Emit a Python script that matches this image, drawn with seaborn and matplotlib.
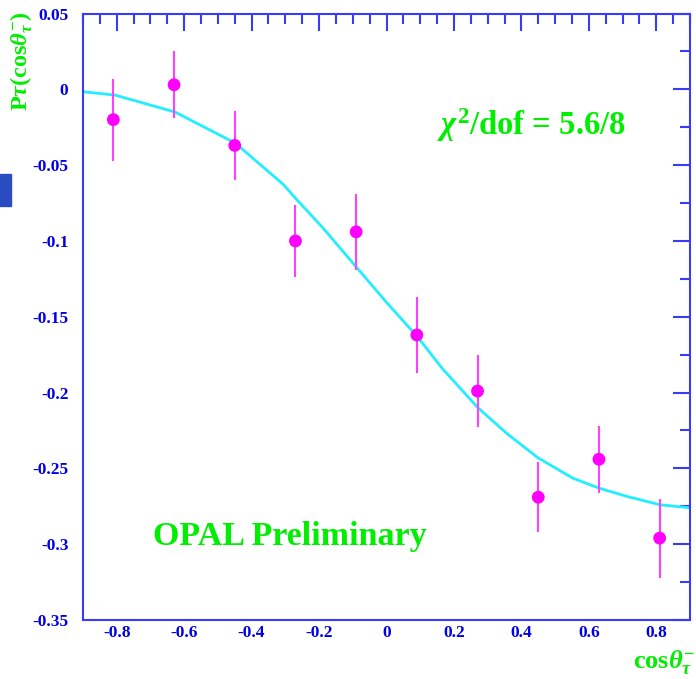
import numpy as np
import pandas as pd
import matplotlib
matplotlib.use("Agg")
import matplotlib.pyplot as plt
import seaborn as sns
from matplotlib.ticker import MultipleLocator, FormatStrFormatter
from matplotlib.patches import Rectangle

# Measured tau polarisation per cos(theta) bin
cos_theta = [-0.81, -0.63, -0.45, -0.27, -0.09, 0.09, 0.27, 0.45, 0.63, 0.81]
p_tau = [-0.020, 0.003, -0.037, -0.100, -0.094, -0.162, -0.199, -0.269, -0.244, -0.296]
p_err = [0.027, 0.022, 0.023, 0.024, 0.025, 0.025, 0.024, 0.023, 0.022, 0.026]

# Fitted curve, sampled along cos(theta)
fit_x = [-0.90, -0.805, -0.627, -0.449, -0.307, -0.265, -0.188, -0.087, 0.002,
         0.091, 0.165, 0.271, 0.357, 0.449, 0.553, 0.630, 0.713, 0.811, 0.90]
fit_y = [-0.0016, -0.0038, -0.0150, -0.0354, -0.0625, -0.0730, -0.0915, -0.1179,
         -0.1410, -0.1630, -0.1840, -0.2100, -0.2270, -0.2430, -0.2565, -0.2630,
         -0.2685, -0.2740, -0.2760]

fit_text = r"$\chi^{2}$/dof = 5.6/8"
label_text = "OPAL Preliminary"

sns.set_theme(style="white")
plt.rcParams.update({
    "font.family": ["Liberation Serif", "DejaVu Serif"],
    "font.weight": "bold",
    "mathtext.fontset": "custom",
    "mathtext.rm": "Liberation Serif:bold",
    "mathtext.bf": "Liberation Serif:bold",
    "mathtext.it": "Liberation Serif:italic:bold",
    "axes.unicode_minus": False,
})

BLUE = "#3a3aff"
LABEL_BLUE = "#0000e6"
GREEN = "#00ee00"
MAGENTA = "#ff00ff"
CYAN = "#22eeff"

fig = plt.figure(figsize=(6.96, 6.79), dpi=100)
ax = fig.add_axes([83 / 696, 59 / 679, 607 / 696, 606.5 / 679])
ax.set_facecolor("white")

pts = pd.DataFrame({"c": cos_theta, "p": p_tau, "e": p_err})
fit = pd.DataFrame({"c": fit_x, "p": fit_y})

sns.lineplot(data=fit, x="c", y="p", ax=ax, color=CYAN, lw=2.0, sort=False,
             zorder=2)
ax.errorbar(pts["c"], pts["p"], yerr=pts["e"], fmt="none", ecolor="#ff40ff",
            elinewidth=1.5, capsize=0, zorder=3)
sns.scatterplot(data=pts, x="c", y="p", ax=ax, color=MAGENTA, s=85,
                edgecolor="none", zorder=4)

ax.set_xlim(-0.9, 0.9)
ax.set_ylim(-0.35, 0.05)
ax.set_xlabel("")
ax.set_ylabel("")

ax.xaxis.set_major_locator(MultipleLocator(0.2))
ax.xaxis.set_minor_locator(MultipleLocator(0.05))
ax.yaxis.set_major_locator(MultipleLocator(0.05))
ax.yaxis.set_minor_locator(MultipleLocator(0.025))
ax.xaxis.set_major_formatter(FormatStrFormatter("%g"))
ax.yaxis.set_major_formatter(FormatStrFormatter("%g"))

ax.tick_params(which="both", direction="in", top=True, right=True,
               color=BLUE, width=1.5, labelcolor=LABEL_BLUE, labelsize=12.5)
ax.tick_params(which="major", length=12)
ax.tick_params(which="minor", length=7)
ax.tick_params(axis="y", which="major", pad=10.5)
ax.tick_params(axis="x", which="major", pad=3.5)
for lab in ax.get_xticklabels() + ax.get_yticklabels():
    lab.set_fontweight("bold")

for sp in ax.spines.values():
    sp.set_color(BLUE)
    sp.set_linewidth(1.5)

ax.text(0.150, -0.0301, fit_text, color=GREEN, fontsize=23.5, fontweight="bold",
        ha="left", va="baseline")
ax.text(-0.692, -0.3006, label_text, color=GREEN, fontsize=24.5,
        fontweight="bold", ha="left", va="baseline")

fig.text(22 / 696, 1 - 61 / 679, r"P$\tau$(cos$\theta_{\tau}^{-}$)",
         color=GREEN, fontsize=17.5, fontweight="bold", rotation=90,
         ha="center", va="center")
fig.text(695 / 696, 1 - 668 / 679, r"cos$\theta_{\tau}^{-}$", color=GREEN,
         fontsize=19, fontweight="bold", ha="right", va="baseline")

fig.patches.append(Rectangle((0, 1 - 206 / 679), 11 / 696, 32 / 679,
                             transform=fig.transFigure, color="#2a4cc0",
                             zorder=5))

fig.savefig("out.png", dpi=100, facecolor="white")
